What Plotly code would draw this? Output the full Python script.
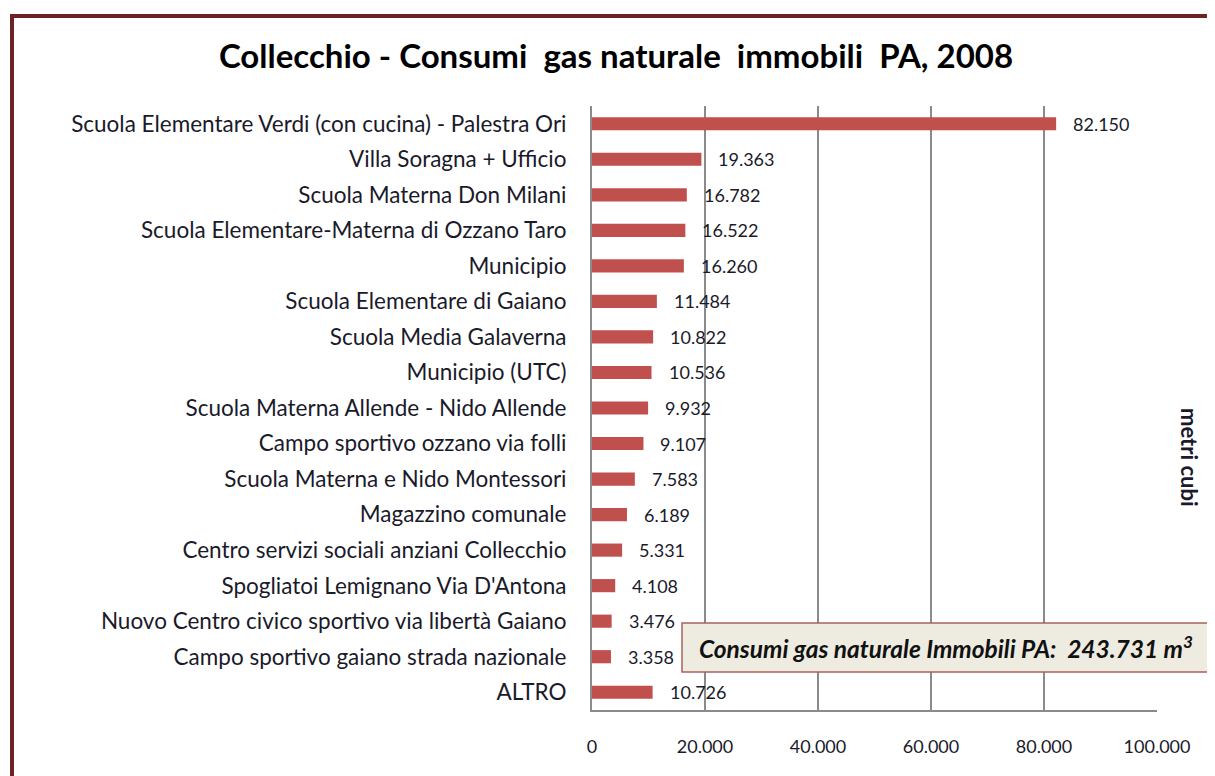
import plotly.graph_objects as go

categories = [
    "Scuola Elementare Verdi (con cucina) - Palestra Ori",
    "Villa Soragna + Ufficio",
    "Scuola Materna Don Milani",
    "Scuola Elementare-Materna di Ozzano Taro",
    "Municipio",
    "Scuola Elementare di Gaiano",
    "Scuola Media Galaverna",
    "Municipio (UTC)",
    "Scuola Materna Allende - Nido Allende",
    "Campo sportivo ozzano via folli",
    "Scuola Materna e Nido Montessori",
    "Magazzino comunale",
    "Centro servizi sociali anziani Collecchio",
    "Spogliatoi Lemignano Via D'Antona",
    "Nuovo Centro civico sportivo via libertà Gaiano",
    "Campo sportivo gaiano strada nazionale",
    "ALTRO",
]
values = [82150, 19363, 16782, 16522, 16260, 11484, 10822, 10536, 9932,
          9107, 7583, 6189, 5331, 4108, 3476, 3358, 10726]
x_ticks = [0, 20000, 40000, 60000, 80000, 100000]
total = 243731

FONT = "Lato"
TXT = "#1a1a2a"

OFF = 8  # page body margin
W, H = 1215 - OFF, 776 - OFF
# plot-area edges in screen pixels
SL, SR, ST, SB = 592, 1157, 106, 710
L, R, T, B = SL - OFF, SR - OFF, ST - OFF, SB - OFF


def px_x(p):
    return (p - SL) / (SR - SL)


def px_y(p):
    return (SB - p) / (SB - ST)


def fmt(v):
    return f"{v:,}".replace(",", ".")


fig = go.Figure()
fig.add_trace(go.Bar(
    y=categories, x=values, orientation="h",
    marker=dict(color="#C0504D", line=dict(width=0)),
    width=0.37, hoverinfo="x+y",
))

annotations = []
for c, v in zip(categories, values):
    annotations.append(dict(
        x=v, y=c, xref="x", yref="y", text=fmt(v), showarrow=False,
        xanchor="left", xshift=15, font=dict(family=FONT, size=18, color=TXT),
    ))

annotations.append(dict(
    xref="paper", yref="paper", x=px_x(1190), y=px_y(457),
    xanchor="center", yanchor="middle",
    text="<b>metri cubi</b>", textangle=90, showarrow=False,
    font=dict(family=FONT, size=22, color=TXT),
))
annotations.append(dict(
    xref="paper", yref="paper", x=px_x(697), y=px_y(647), xanchor="left",
    yanchor="middle",
    text=f"<b><i>Consumi gas naturale Immobili PA:  {fmt(total)} m<sup>3</sup></i></b>",
    showarrow=False, font=dict(family=FONT, size=24.5, color="#111"),
))

shapes = [
    dict(type="rect", xref="paper", yref="paper",
         x0=px_x(682), x1=px_x(1240), y0=px_y(672), y1=px_y(623),
         fillcolor="#EEECE1", line=dict(color="#A8625E", width=1.5), layer="above"),
    dict(type="rect", xref="paper", yref="paper",
         x0=px_x(12), x1=px_x(1250), y0=px_y(800), y1=px_y(16),
         fillcolor="rgba(0,0,0,0)", line=dict(color="#6B2326", width=4), layer="above"),
]

fig.update_layout(
    width=W, height=H,
    margin=dict(l=L, r=W - R, t=T, b=H - B, pad=0),
    paper_bgcolor="white", plot_bgcolor="white",
    separators=",.",
    showlegend=False,
    title=dict(text="<b>Collecchio - Consumi  gas naturale  immobili  PA, 2008</b>",
               xref="container", yref="container",
               x=(616 - OFF) / W, y=1 - (56 - OFF) / H, xanchor="center", yanchor="middle",
               font=dict(family=FONT, size=33, color="#000")),
    xaxis=dict(range=[0, 100000], tickvals=x_ticks,
               ticktext=[fmt(t) for t in x_ticks],
               showgrid=True, gridcolor="#8a8a8a", gridwidth=1.5,
               zeroline=False, showline=True, linecolor="#8a8a8a", linewidth=2,
               ticks="", ticklabelstandoff=19,
               tickfont=dict(family=FONT, size=18, color=TXT), fixedrange=True),
    yaxis=dict(autorange="reversed", showgrid=False, zeroline=False,
               showline=True, linecolor="#8a8a8a", linewidth=2,
               ticks="", ticklabelstandoff=19,
               tickfont=dict(family=FONT, size=22.5, color=TXT)),
    annotations=annotations,
    shapes=shapes,
    bargap=0.63,
)

fig.write_html("out.html")
